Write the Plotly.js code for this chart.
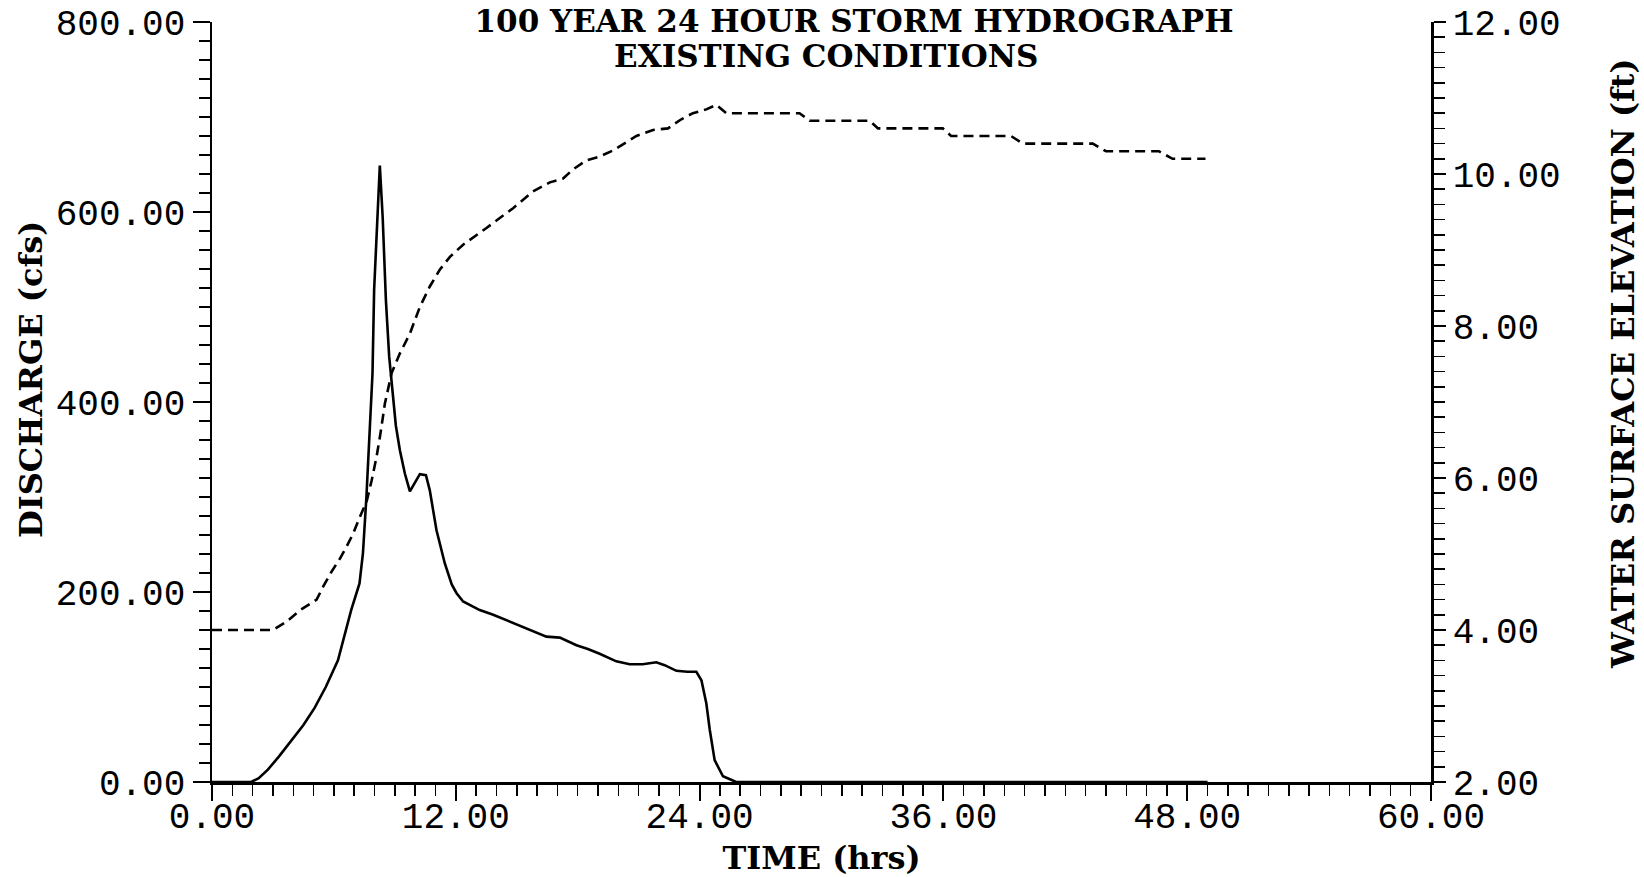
<!DOCTYPE html>
<html>
<head>
<meta charset="utf-8">
<script src="https://cdn.plot.ly/plotly-3.0.1.min.js"></script>
<style>
  html, body { margin: 0; padding: 0; background: #ffffff; }
  #chart { width: 1644px; height: 877px; }
</style>
</head>
<body>
<div id="chart"></div>
<script>
// ---- Data ----
// Discharge hydrograph (solid line, left axis)
const timeQ = [0, 1.0, 1.93, 2.3, 2.75, 3.3, 3.9, 4.5, 5.05, 5.6, 6.2, 6.85, 7.26, 7.43, 7.6, 7.75, 7.9, 7.98, 8.1, 8.26,
  8.4, 8.56, 8.72, 8.89, 9.05, 9.25, 9.49, 9.74, 10.0, 10.23, 10.53, 10.72, 11.05, 11.46, 11.8, 12.03, 12.36, 13.18, 13.84,
  14.5, 15.31, 16.0, 16.46, 17.12, 17.94, 18.5, 19.08, 19.9, 20.56, 21.2, 21.87, 22.28, 22.86, 23.4, 23.84, 24.09, 24.33,
  24.5, 24.74, 25.15, 25.8, 49.0];
const discharge = [0, 0, 0, 4, 13, 27, 44, 60, 78, 100, 128, 181, 209, 241, 300, 365, 430, 518, 578, 649,
  595, 507, 448, 409, 375, 349, 325, 306, 316, 324, 323, 307, 265, 230, 208, 199, 190, 181, 176,
  170, 163, 157, 153, 152, 144, 140, 135, 127, 124, 124, 126, 123, 117, 116, 116, 107, 83,
  55, 23, 6, 0, 0];

// Water surface elevation (dashed line, right axis)
const timeWse = [0, 3.0, 3.67, 4.33, 5.15, 5.47, 5.89, 6.3, 6.63, 6.95, 7.28, 7.61, 7.86, 8.1, 8.3, 8.51, 8.84, 9.25,
  9.74, 10.23, 10.72, 11.21, 11.71, 12.36, 13.51, 14.82, 15.8, 16.63, 17.28, 17.77, 18.43, 19.08, 19.74, 20.89, 21.71,
  22.44, 23.1, 23.67, 24.33, 24.82, 25.32, 28.92, 29.41, 32.37, 32.78, 35.97, 36.38, 39.33, 39.9, 43.35, 44.0, 46.6,
  47.28, 48.9];
const wse = [4.0, 4.0, 4.11, 4.26, 4.40, 4.57, 4.77, 4.94, 5.10, 5.27, 5.49, 5.69, 5.97, 6.28, 6.60, 6.98, 7.38, 7.64,
  7.90, 8.25, 8.52, 8.74, 8.91, 9.07, 9.29, 9.55, 9.77, 9.89, 9.94, 10.06, 10.18, 10.23, 10.31, 10.50, 10.58,
  10.60, 10.72, 10.80, 10.85, 10.91, 10.80, 10.80, 10.70, 10.70, 10.60, 10.60, 10.50, 10.50, 10.40, 10.40, 10.30, 10.30,
  10.20, 10.20];

// Tick labels
const xTickVals = [0, 12, 24, 36, 48, 60];
const xTickText = ["0.00", "12.00", "24.00", "36.00", "48.00", "60.00"];
const yTickVals = [0, 200, 400, 600, 800];
const yTickText = ["0.00", "200.00", "400.00", "600.00", "800.00"];
const y2TickVals = [2, 4, 6, 8, 10, 12];
const y2TickText = ["2.00", "4.00", "6.00", "8.00", "10.00", "12.00"];

const titleLine1 = "100 YEAR 24 HOUR STORM HYDROGRAPH";
const titleLine2 = "EXISTING CONDITIONS";
const xTitle = "TIME (hrs)";
const yTitle = "DISCHARGE (cfs)";
const y2Title = "WATER SURFACE ELEVATION (ft)";

// ---- Styling ----
const tickFont = { family: "Liberation Mono, DejaVu Sans Mono, monospace", size: 36, color: "#000" };
const labelFont = { family: "DejaVu Serif, Liberation Serif, serif", size: 32, color: "#000", weight: "bold" };
const titleFont = { family: "DejaVu Serif, Liberation Serif, serif", size: 31, color: "#000", weight: "bold" };

const traces = [
  {
    x: timeQ, y: discharge, type: "scatter", mode: "lines", name: "Discharge",
    line: { color: "#000", width: 2.6, shape: "linear" }, yaxis: "y", hoverinfo: "skip"
  },
  {
    x: timeWse, y: wse, type: "scatter", mode: "lines", name: "Water Surface Elevation",
    line: { color: "#000", width: 2.6, dash: "10px,6px", shape: "linear" }, yaxis: "y2", hoverinfo: "skip"
  }
];

const axisCommon = {
  showgrid: false, zeroline: false, showline: true, linecolor: "#000", linewidth: 2.5,
  ticks: "outside", tickcolor: "#000", tickwidth: 2, tickfont: tickFont,
  tickmode: "array", automargin: false, fixedrange: true
};

// plot area in pixels: x 212..1431, y 22..782
const plotL = 212, plotR = 1431, plotT = 22, plotB = 782;
const px2paperX = (px) => (px - plotL) / (plotR - plotL);
const px2paperY = (py) => (plotB - py) / (plotB - plotT);

const layout = {
  width: 1644, height: 877,
  paper_bgcolor: "#fff", plot_bgcolor: "#fff",
  showlegend: false,
  margin: { l: plotL, r: 1644 - plotR, t: plotT, b: 877 - plotB, pad: 0 },
  title: {
    text: titleLine1, font: titleFont,
    xref: "container", yref: "container",
    x: 854 / 1644, xanchor: "center", y: 1 - 21 / 877, yanchor: "middle"
  },
  annotations: [
    {
      text: titleLine2, font: titleFont, showarrow: false,
      xref: "paper", yref: "paper", x: px2paperX(826), y: px2paperY(56),
      xanchor: "center", yanchor: "middle"
    },
    {
      text: yTitle, font: labelFont, showarrow: false, textangle: -90,
      xref: "paper", yref: "paper", x: px2paperX(31), y: px2paperY(380),
      xanchor: "center", yanchor: "middle"
    },
    {
      text: y2Title, font: labelFont, showarrow: false, textangle: -90,
      xref: "paper", yref: "paper", x: px2paperX(1623), y: px2paperY(364),
      xanchor: "center", yanchor: "middle"
    }
  ],
  xaxis: Object.assign({}, axisCommon, {
    range: [0, 60], tickvals: xTickVals, ticktext: xTickText, ticklen: 16,
    ticklabelstandoff: -16,
    minor: { tickmode: "linear", tick0: 0, dtick: 1, ticks: "outside", ticklen: 11, tickwidth: 1.5, tickcolor: "#000" },
    title: { text: xTitle, font: labelFont, standoff: 20 }
  }),
  yaxis: Object.assign({}, axisCommon, {
    range: [0, 800], tickvals: yTickVals, ticktext: yTickText, ticklen: 17,
    minor: { tickmode: "linear", tick0: 0, dtick: 20, ticks: "outside", ticklen: 11, tickwidth: 1.5, tickcolor: "#000" }
  }),
  yaxis2: Object.assign({}, axisCommon, {
    overlaying: "y", side: "right", anchor: "x",
    range: [2, 12], tickvals: y2TickVals, ticktext: y2TickText, ticklen: 12,
    minor: { tickmode: "linear", tick0: 2, dtick: 0.2, ticks: "outside", ticklen: 11, tickwidth: 1.5, tickcolor: "#000" }
  })
};

Plotly.newPlot("chart", traces, layout, { displayModeBar: false, staticPlot: true });
</script>
</body>
</html>
